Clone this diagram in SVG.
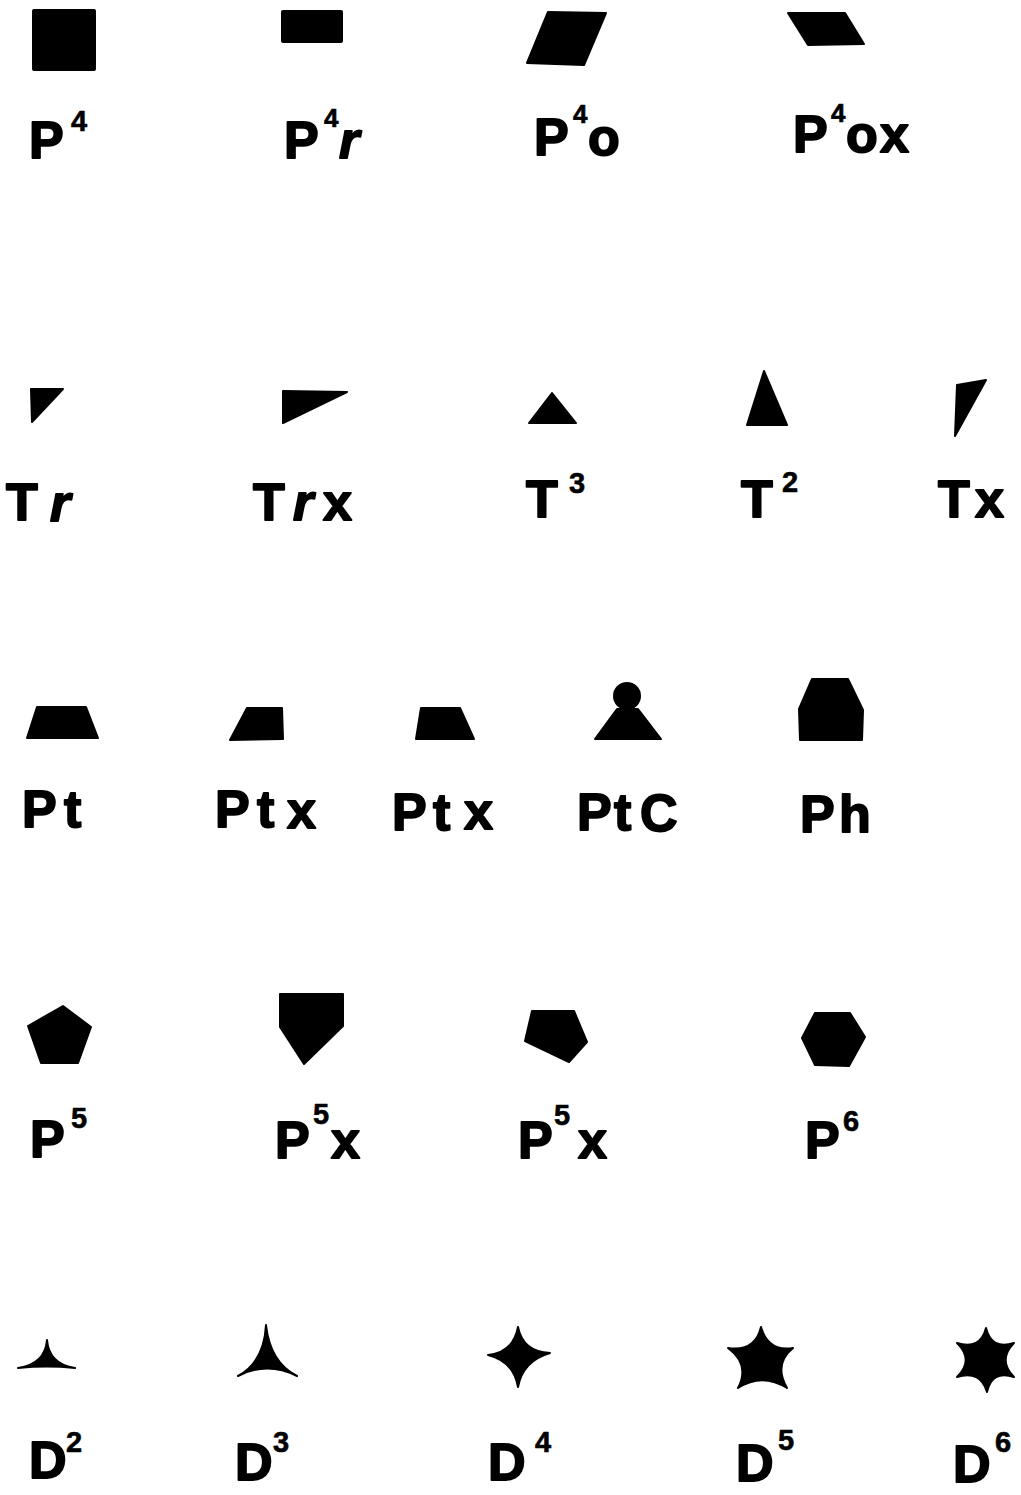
<svg xmlns="http://www.w3.org/2000/svg" width="1021" height="1495" viewBox="0 0 1021 1495">
<style>
.s{fill:#000;stroke:#000;stroke-width:2;stroke-linejoin:round}
.t{font-family:"Liberation Sans",Arial,sans-serif;font-weight:bold;font-size:52px;fill:#000;stroke:#000;stroke-width:1.8;stroke-linejoin:round}
.sup{font-size:29px;stroke-width:0.6}
.sm{font-size:26px}
.it{font-style:italic}
</style>
<rect width="1021" height="1495" fill="#fff"/>
<!-- Row 1 -->
<g id="P4">
<rect class="s" x="33" y="10" width="62" height="60" rx="1"/>
<text class="t"><tspan x="29" y="158">P</tspan><tspan class="sup" x="71" y="131">4</tspan></text>
</g>
<g id="P4r">
<rect class="s" x="282" y="11" width="60" height="31" rx="1"/>
<text class="t"><tspan x="284" y="158">P</tspan><tspan class="sup sm" x="324" y="127">4</tspan><tspan class="it" x="339" y="158">r</tspan></text>
</g>
<g id="P4o">
<polygon class="s" points="548,12 606,13 584,65 527,63"/>
<text class="t"><tspan x="534" y="155">P</tspan><tspan class="sup sm" x="573" y="123">4</tspan><tspan x="588" y="155">o</tspan></text>
</g>
<g id="P4ox">
<polygon class="s" points="788,13 845,13 864,44 808,45"/>
<text class="t"><tspan x="793" y="152">P</tspan><tspan class="sup sm" x="831" y="122">4</tspan><tspan x="846" y="152">o</tspan><tspan x="880" y="152">x</tspan></text>
</g>
<!-- Row 2 -->
<g id="Tr">
<polygon class="s" points="31,389 63,389 32,422"/>
<text class="t"><tspan x="6" y="520">T</tspan><tspan class="it" x="50" y="521">r</tspan></text>
</g>
<g id="Trx">
<polygon class="s" points="283,391 347,392 283,423"/>
<text class="t"><tspan x="253" y="520">T</tspan><tspan class="it" x="293" y="520">r</tspan><tspan x="323" y="520">x</tspan></text>
</g>
<g id="T3">
<polygon class="s" points="552,393 576,423 529,423"/>
<text class="t"><tspan x="526" y="517">T</tspan><tspan class="sup" x="569" y="493">3</tspan></text>
</g>
<g id="T2">
<polygon class="s" points="764,371 787,425 747,425"/>
<text class="t"><tspan x="741" y="517">T</tspan><tspan class="sup" x="782" y="492">2</tspan></text>
</g>
<g id="Tx">
<polygon class="s" points="957,385 986,380 955,436"/>
<text class="t"><tspan x="938" y="517">T</tspan><tspan x="975" y="517">x</tspan></text>
</g>
<!-- Row 3 -->
<g id="Pt">
<polygon class="s" points="37,707 86,707 98,738 27,738"/>
<text class="t"><tspan x="22" y="827">P</tspan><tspan x="64" y="827">t</tspan></text>
</g>
<g id="Ptx1">
<polygon class="s" points="247,708 282,708 283,739 230,740"/>
<text class="t"><tspan x="215" y="827">P</tspan><tspan x="257" y="827">t</tspan><tspan x="287" y="828">x</tspan></text>
</g>
<g id="Ptx2">
<polygon class="s" points="421,708 460,708 474,739 416,739"/>
<text class="t"><tspan x="392" y="830">P</tspan><tspan x="433" y="830">t</tspan><tspan x="464" y="829">x</tspan></text>
</g>
<g id="PtC">
<circle class="s" cx="627" cy="696" r="13"/>
<polygon class="s" points="617,709 638,709 661,739 595,739"/>
<text class="t"><tspan x="577" y="830">P</tspan><tspan x="614" y="830">t</tspan><tspan x="640" y="831">C</tspan></text>
</g>
<g id="Ph">
<polygon class="s" points="812,679 848,679 863,710 862,740 800,740 799,709"/>
<text class="t"><tspan x="800" y="832">P</tspan><tspan x="839" y="832">h</tspan></text>
</g>
<!-- Row 4 -->
<g id="P5">
<polygon class="s" points="63,1006 91,1027 78,1063 41,1063 28,1026"/>
<text class="t"><tspan x="30" y="1157">P</tspan><tspan class="sup" x="71" y="1128">5</tspan></text>
</g>
<g id="P5x1">
<polygon class="s" points="280,994 343,994 343,1026 304,1064 280,1027"/>
<text class="t"><tspan x="275" y="1158">P</tspan><tspan class="sup" x="313" y="1124">5</tspan><tspan x="331" y="1158">x</tspan></text>
</g>
<g id="P5x2">
<polygon class="s" points="532,1011 574,1011 587,1042 569,1062 525,1041"/>
<text class="t"><tspan x="518" y="1158">P</tspan><tspan class="sup" x="554" y="1125">5</tspan><tspan x="578" y="1158">x</tspan></text>
</g>
<g id="P6">
<polygon class="s" points="815,1013 850,1013 865,1037 849,1066 815,1065 802,1038"/>
<text class="t"><tspan x="805" y="1158">P</tspan><tspan class="sup" x="843" y="1131">6</tspan></text>
</g>
<!-- Row 5 -->
<g id="D2">
<path class="s" stroke-width="1" d="M18,1368 Q45,1364 47,1340 Q49,1364 75,1368 Q47,1365 18,1368 Z"/>
<text class="t"><tspan x="29" y="1478">D</tspan><tspan class="sup" x="66" y="1452">2</tspan></text>
</g>
<g id="D3">
<path class="s" stroke-width="1" d="M238,1376 Q264,1362 266,1325 Q270,1362 297,1376 Q267,1361 238,1376 Z"/>
<text class="t"><tspan x="235" y="1480">D</tspan><tspan class="sup" x="273" y="1452">3</tspan></text>
</g>
<g id="D4">
<path class="s" stroke-width="1" d="M518,1327 Q522.8,1351.9 550,1353 Q522.8,1360.9 518,1387 Q513.5,1361.2 488,1355 Q513.5,1352.2 518,1327 Z"/>
<text class="t"><tspan x="488" y="1480">D</tspan><tspan class="sup" x="535" y="1452">4</tspan></text>
</g>
<g id="D5">
<path class="s" stroke-width="1" d="M761,1327 Q768,1352.2 793,1348 Q773.2,1364.4 787,1388 Q762.2,1372.4 738,1388 Q750.4,1364.4 728,1348 Q755,1352.2 761,1327 Z"/>
<text class="t"><tspan x="736" y="1481">D</tspan><tspan class="sup" x="778" y="1450">5</tspan></text>
</g>
<g id="D6">
<path class="s" stroke-width="1" d="M986,1328 Q991.6,1350.2 1014,1343 Q997.2,1360 1014,1377 Q991.8,1369.8 987,1392 Q980.4,1369.8 957,1377 Q974.4,1360 957,1343 Q980.2,1350.2 986,1328 Z"/>
<text class="t"><tspan x="953" y="1482">D</tspan><tspan class="sup" x="995" y="1452">6</tspan></text>
</g>
</svg>
